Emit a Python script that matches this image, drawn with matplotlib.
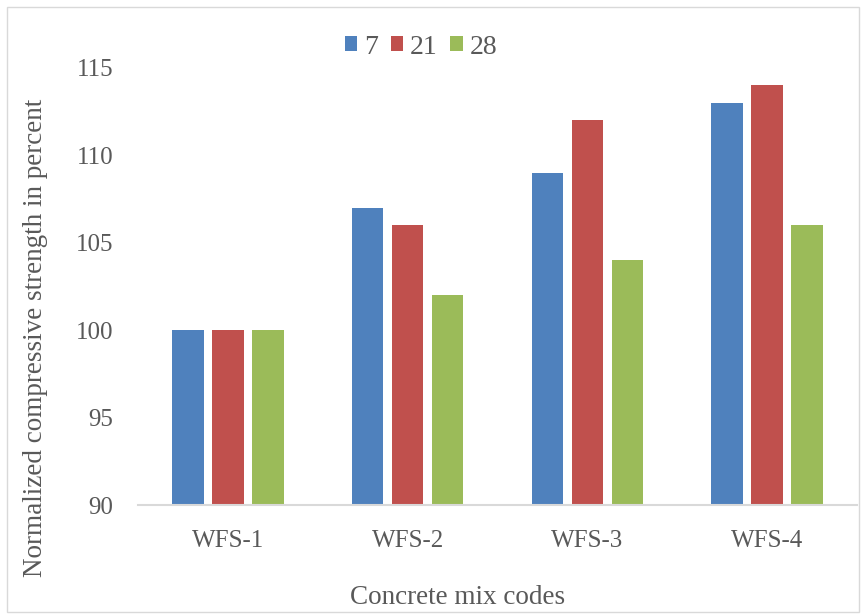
import matplotlib
matplotlib.use("Agg")
import matplotlib.pyplot as plt
import numpy as np
from matplotlib.patches import Rectangle

categories = ["WFS-1", "WFS-2", "WFS-3", "WFS-4"]
series_names = ["7", "21", "28"]
vals_7 = [100, 107, 109, 113]
vals_21 = [100, 106, 112, 114]
vals_28 = [100, 102, 104, 106]
colors = ["#4F81BD", "#C0504D", "#9BBB59"]

plt.rcParams['font.family'] = ['Liberation Serif', 'DejaVu Serif']
fig = plt.figure(figsize=(8.61, 6.15), dpi=100)
ax = fig.add_axes([138/861, 1-505/615, (857-138)/861, (505-68)/615])

x = np.arange(len(categories))
w = 0.175
step = 0.222
for i, (vals, c, n) in enumerate(zip([vals_7, vals_21, vals_28], colors, series_names)):
    ax.bar(x + (i-1)*step, vals, width=w, color=c, label=n, zorder=2)

ax.set_xlim(-0.5, 3.5)
ax.set_ylim(90, 115)
ax.set_yticks([90, 95, 100, 105, 110, 115])
ax.set_xticks(x)
ax.set_xticklabels(categories)
ax.tick_params(axis='both', length=0, labelsize=18, labelcolor='#595959')
ax.tick_params(axis='y', pad=18)
ax.tick_params(axis='x', pad=18)
for s in ['left', 'right', 'top']:
    ax.spines[s].set_visible(False)
ax.spines['bottom'].set_color('#D9D9D9')
ax.spines['bottom'].set_linewidth(1.5)

fig.text(458/861, 1-597/615, "Concrete mix codes", ha='center', va='center', fontsize=19.5, color='#595959')
fig.text(36/861, 1-338/615, "Normalized compressive strength in percent", ha='center', va='center',
         rotation=90, fontsize=19.5, color='#595959')

leg = ax.legend(loc='center', bbox_to_anchor=(421/861, 1-47/615), bbox_transform=fig.transFigure,
                ncol=3, frameon=False, fontsize=20, handlelength=0.45, handleheight=0.45,
                handletextpad=0.25, columnspacing=0.45, labelcolor='#595959')

fig.patches.append(Rectangle((7/861, 3/615), 852/861, 1-10/615, transform=fig.transFigure,
                             fill=False, edgecolor='#D9D9D9', linewidth=1))
fig.savefig("out.png", dpi=100)
